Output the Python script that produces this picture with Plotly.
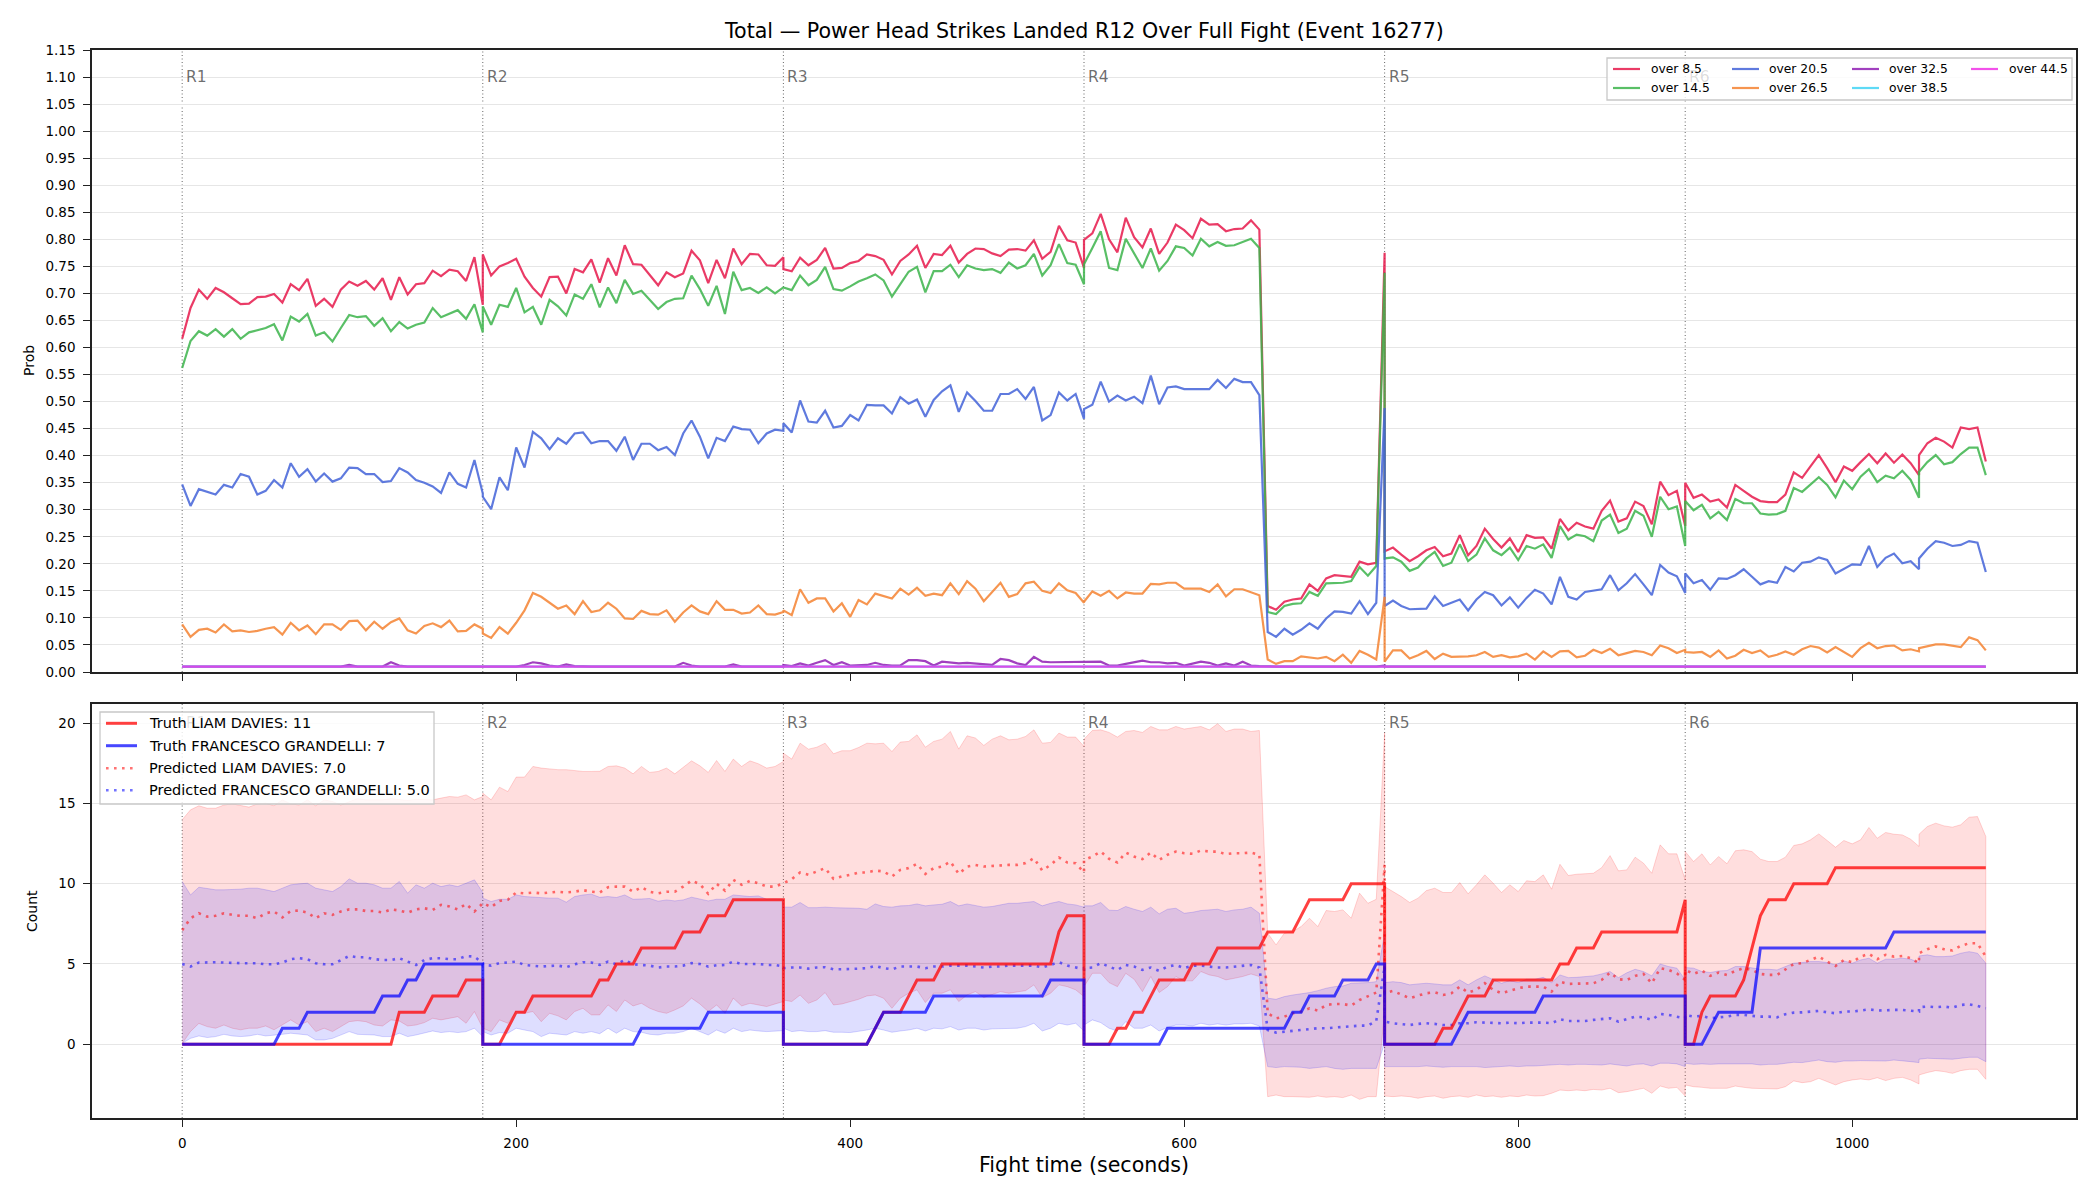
import plotly.graph_objects as go

# ---------------------------------------------------------------- data
ROUND_STARTS = [0, 180, 360, 540, 720, 900]
ROUND_LABELS = ["R1", "R2", "R3", "R4", "R5", "R6"]
STEP = 5
PTS_PER_ROUND = 37
R6_BREAK = 1040          # a second sample sits at t=1040 in round 6


def build_times():
    t = []
    for r0 in ROUND_STARTS[:5]:
        t += [r0 + STEP * k for k in range(PTS_PER_ROUND)]
    t += [900 + STEP * k for k in range(29)]
    t += [R6_BREAK]
    t += [R6_BREAK + STEP * k for k in range(1, 9)]
    return t


T = build_times()
X_FLAT = [0, 1080]

OVER_8_5 = [
    0.616, 0.673, 0.707, 0.690, 0.710, 0.702, 0.691, 0.680, 0.681, 0.693, 0.694, 0.699, 0.683, 0.717, 0.706, 0.727, 0.677, 0.690, 0.675, 0.707, 0.722, 0.714, 0.723, 0.707, 0.728, 0.688, 0.730, 0.698, 0.717, 0.719, 0.742, 0.732, 0.744, 0.741, 0.723, 0.767, 0.679,
    0.772, 0.733, 0.750, 0.756, 0.764, 0.731, 0.710, 0.694, 0.730, 0.731, 0.700, 0.745, 0.739, 0.763, 0.720, 0.765, 0.733, 0.789, 0.754, 0.753, 0.735, 0.715, 0.739, 0.730, 0.737, 0.779, 0.761, 0.719, 0.762, 0.728, 0.783, 0.754, 0.773, 0.772, 0.752, 0.751, 0.767,
    0.745, 0.741, 0.766, 0.752, 0.762, 0.784, 0.746, 0.747, 0.756, 0.760, 0.772, 0.769, 0.762, 0.735, 0.760, 0.772, 0.788, 0.747, 0.773, 0.771, 0.788, 0.757, 0.773, 0.783, 0.782, 0.774, 0.769, 0.781, 0.782, 0.779, 0.798, 0.764, 0.777, 0.825, 0.798, 0.794, 0.747,
    0.799, 0.811, 0.847, 0.800, 0.776, 0.840, 0.804, 0.785, 0.820, 0.773, 0.794, 0.827, 0.817, 0.802, 0.838, 0.827, 0.828, 0.815, 0.819, 0.820, 0.835, 0.818, 0.122, 0.115, 0.130, 0.134, 0.136, 0.162, 0.150, 0.173, 0.179, 0.177, 0.176, 0.204, 0.199, 0.202, 0.775,
    0.223, 0.230, 0.217, 0.205, 0.214, 0.225, 0.231, 0.214, 0.219, 0.253, 0.216, 0.233, 0.265, 0.246, 0.230, 0.247, 0.222, 0.253, 0.248, 0.249, 0.228, 0.283, 0.262, 0.276, 0.269, 0.265, 0.298, 0.317, 0.278, 0.284, 0.315, 0.307, 0.273, 0.352, 0.327, 0.335, 0.270,
    0.350, 0.322, 0.328, 0.315, 0.319, 0.304, 0.346, 0.335, 0.324, 0.316, 0.314, 0.314, 0.328, 0.369, 0.359, 0.380, 0.401, 0.377, 0.351, 0.380, 0.372, 0.388, 0.403, 0.386, 0.404, 0.387, 0.402, 0.386, 0.364, 0.401, 0.423, 0.433, 0.426, 0.415, 0.452, 0.449, 0.452, 0.389,
]

OVER_14_5 = [
    0.562, 0.612, 0.630, 0.622, 0.634, 0.620, 0.634, 0.616, 0.628, 0.632, 0.636, 0.643, 0.613, 0.657, 0.648, 0.662, 0.622, 0.628, 0.611, 0.636, 0.660, 0.656, 0.658, 0.640, 0.654, 0.630, 0.647, 0.635, 0.642, 0.646, 0.673, 0.656, 0.662, 0.669, 0.653, 0.680, 0.628,
    0.676, 0.642, 0.679, 0.675, 0.710, 0.665, 0.675, 0.642, 0.688, 0.676, 0.659, 0.698, 0.690, 0.717, 0.674, 0.711, 0.682, 0.725, 0.699, 0.705, 0.688, 0.671, 0.684, 0.690, 0.691, 0.733, 0.708, 0.677, 0.714, 0.662, 0.740, 0.706, 0.710, 0.701, 0.711, 0.700, 0.711,
    0.711, 0.706, 0.733, 0.715, 0.725, 0.749, 0.708, 0.705, 0.713, 0.722, 0.728, 0.735, 0.724, 0.694, 0.717, 0.740, 0.749, 0.702, 0.741, 0.741, 0.753, 0.730, 0.752, 0.746, 0.743, 0.745, 0.738, 0.757, 0.746, 0.752, 0.773, 0.733, 0.752, 0.791, 0.756, 0.753, 0.717,
    0.754, 0.784, 0.815, 0.747, 0.743, 0.801, 0.775, 0.747, 0.783, 0.742, 0.760, 0.787, 0.784, 0.770, 0.801, 0.787, 0.795, 0.788, 0.789, 0.795, 0.801, 0.784, 0.111, 0.107, 0.122, 0.126, 0.127, 0.148, 0.141, 0.164, 0.164, 0.165, 0.168, 0.194, 0.178, 0.196, 0.738,
    0.210, 0.212, 0.204, 0.187, 0.193, 0.210, 0.222, 0.196, 0.202, 0.236, 0.205, 0.217, 0.247, 0.225, 0.216, 0.230, 0.207, 0.233, 0.228, 0.236, 0.211, 0.270, 0.245, 0.254, 0.251, 0.242, 0.280, 0.291, 0.257, 0.265, 0.298, 0.289, 0.250, 0.324, 0.301, 0.306, 0.233,
    0.316, 0.299, 0.309, 0.284, 0.296, 0.281, 0.320, 0.312, 0.312, 0.293, 0.291, 0.292, 0.298, 0.340, 0.333, 0.346, 0.360, 0.346, 0.323, 0.354, 0.338, 0.361, 0.375, 0.351, 0.363, 0.358, 0.372, 0.355, 0.322, 0.370, 0.388, 0.401, 0.384, 0.388, 0.403, 0.415, 0.415, 0.364,
]

OVER_20_5 = [
    0.347, 0.307, 0.338, 0.333, 0.328, 0.346, 0.341, 0.366, 0.361, 0.328, 0.335, 0.355, 0.341, 0.386, 0.361, 0.375, 0.352, 0.367, 0.352, 0.358, 0.378, 0.377, 0.366, 0.366, 0.351, 0.353, 0.377, 0.369, 0.355, 0.350, 0.343, 0.331, 0.369, 0.348, 0.341, 0.392, 0.330,
    0.324, 0.301, 0.360, 0.336, 0.415, 0.378, 0.444, 0.432, 0.412, 0.432, 0.422, 0.441, 0.443, 0.423, 0.427, 0.427, 0.409, 0.435, 0.392, 0.422, 0.422, 0.410, 0.416, 0.401, 0.441, 0.465, 0.435, 0.395, 0.433, 0.427, 0.454, 0.449, 0.448, 0.423, 0.441, 0.448, 0.446,
    0.460, 0.443, 0.502, 0.463, 0.461, 0.483, 0.452, 0.455, 0.475, 0.465, 0.494, 0.493, 0.493, 0.478, 0.508, 0.496, 0.504, 0.472, 0.503, 0.519, 0.530, 0.481, 0.517, 0.501, 0.483, 0.483, 0.514, 0.514, 0.523, 0.505, 0.527, 0.465, 0.475, 0.517, 0.502, 0.514, 0.468,
    0.486, 0.494, 0.537, 0.500, 0.511, 0.502, 0.509, 0.497, 0.548, 0.495, 0.526, 0.528, 0.523, 0.523, 0.523, 0.523, 0.540, 0.525, 0.542, 0.536, 0.536, 0.512, 0.074, 0.065, 0.080, 0.069, 0.078, 0.090, 0.080, 0.099, 0.112, 0.111, 0.108, 0.131, 0.107, 0.128, 0.488,
    0.122, 0.132, 0.122, 0.116, 0.116, 0.117, 0.140, 0.122, 0.128, 0.134, 0.114, 0.134, 0.148, 0.142, 0.123, 0.138, 0.119, 0.137, 0.152, 0.145, 0.125, 0.176, 0.139, 0.134, 0.148, 0.151, 0.153, 0.179, 0.151, 0.164, 0.181, 0.162, 0.142, 0.198, 0.184, 0.177, 0.146,
    0.182, 0.164, 0.170, 0.152, 0.173, 0.172, 0.179, 0.190, 0.176, 0.162, 0.168, 0.165, 0.194, 0.186, 0.202, 0.204, 0.212, 0.207, 0.182, 0.191, 0.199, 0.198, 0.233, 0.194, 0.211, 0.219, 0.201, 0.205, 0.190, 0.210, 0.228, 0.242, 0.239, 0.233, 0.235, 0.242, 0.239, 0.185,
]

OVER_26_5 = [
    0.088, 0.065, 0.078, 0.080, 0.073, 0.088, 0.075, 0.077, 0.074, 0.076, 0.080, 0.083, 0.069, 0.091, 0.077, 0.086, 0.070, 0.088, 0.088, 0.078, 0.094, 0.095, 0.077, 0.093, 0.080, 0.092, 0.099, 0.077, 0.071, 0.085, 0.090, 0.083, 0.095, 0.075, 0.076, 0.088, 0.080,
    0.071, 0.063, 0.083, 0.071, 0.091, 0.114, 0.146, 0.139, 0.128, 0.117, 0.123, 0.107, 0.131, 0.111, 0.114, 0.128, 0.117, 0.099, 0.098, 0.113, 0.107, 0.106, 0.114, 0.093, 0.110, 0.123, 0.112, 0.107, 0.131, 0.115, 0.115, 0.108, 0.110, 0.123, 0.107, 0.106, 0.111,
    0.114, 0.105, 0.153, 0.128, 0.136, 0.136, 0.112, 0.127, 0.102, 0.133, 0.125, 0.145, 0.141, 0.136, 0.154, 0.143, 0.156, 0.141, 0.145, 0.142, 0.164, 0.144, 0.168, 0.154, 0.131, 0.148, 0.165, 0.139, 0.144, 0.164, 0.167, 0.150, 0.146, 0.164, 0.151, 0.146, 0.128,
    0.130, 0.149, 0.141, 0.150, 0.136, 0.147, 0.145, 0.145, 0.163, 0.162, 0.165, 0.165, 0.154, 0.154, 0.154, 0.148, 0.162, 0.140, 0.153, 0.153, 0.148, 0.142, 0.023, 0.015, 0.020, 0.020, 0.029, 0.027, 0.025, 0.028, 0.020, 0.032, 0.017, 0.039, 0.032, 0.023, 0.139,
    0.019, 0.040, 0.040, 0.025, 0.031, 0.039, 0.024, 0.034, 0.028, 0.028, 0.029, 0.031, 0.037, 0.028, 0.031, 0.027, 0.029, 0.034, 0.023, 0.038, 0.028, 0.038, 0.039, 0.027, 0.030, 0.041, 0.035, 0.043, 0.031, 0.035, 0.039, 0.037, 0.031, 0.049, 0.044, 0.035, 0.041,
    0.037, 0.036, 0.037, 0.028, 0.040, 0.025, 0.030, 0.041, 0.035, 0.040, 0.028, 0.032, 0.038, 0.032, 0.042, 0.048, 0.045, 0.036, 0.046, 0.037, 0.028, 0.044, 0.054, 0.044, 0.048, 0.049, 0.040, 0.042, 0.038, 0.044, 0.048, 0.051, 0.051, 0.048, 0.046, 0.064, 0.059, 0.040,
]

OVER_32_5 = [
    0.010, 0.010, 0.010, 0.010, 0.010, 0.010, 0.010, 0.010, 0.010, 0.010, 0.010, 0.010, 0.010, 0.010, 0.010, 0.010, 0.010, 0.010, 0.010, 0.010, 0.013, 0.010, 0.010, 0.010, 0.010, 0.018, 0.012, 0.010, 0.010, 0.010, 0.010, 0.010, 0.010, 0.010, 0.010, 0.010, 0.010,
    0.010, 0.010, 0.010, 0.010, 0.010, 0.013, 0.018, 0.016, 0.012, 0.010, 0.014, 0.011, 0.010, 0.010, 0.010, 0.010, 0.010, 0.010, 0.010, 0.010, 0.010, 0.010, 0.010, 0.010, 0.017, 0.012, 0.010, 0.010, 0.010, 0.010, 0.014, 0.010, 0.010, 0.010, 0.010, 0.010, 0.010,
    0.013, 0.011, 0.016, 0.012, 0.017, 0.022, 0.013, 0.018, 0.012, 0.013, 0.013, 0.017, 0.013, 0.012, 0.012, 0.022, 0.022, 0.020, 0.012, 0.019, 0.018, 0.016, 0.017, 0.016, 0.014, 0.013, 0.024, 0.022, 0.016, 0.013, 0.028, 0.019, 0.018, 0.018, 0.019, 0.019, 0.019,
    0.019, 0.019, 0.019, 0.012, 0.012, 0.015, 0.018, 0.021, 0.018, 0.018, 0.016, 0.017, 0.012, 0.016, 0.019, 0.017, 0.012, 0.016, 0.012, 0.019, 0.012, 0.011, 0.010, 0.010, 0.010, 0.010, 0.010, 0.010, 0.010, 0.010, 0.010, 0.010, 0.010, 0.010, 0.010, 0.010, 0.012,
    0.010, 0.010, 0.010, 0.010, 0.010, 0.010, 0.010, 0.010, 0.010, 0.010, 0.010, 0.010, 0.010, 0.010, 0.010, 0.010, 0.010, 0.010, 0.010, 0.010, 0.010, 0.010, 0.010, 0.010, 0.010, 0.010, 0.010, 0.010, 0.010, 0.010, 0.010, 0.010, 0.010, 0.010, 0.010, 0.010, 0.010,
    0.010, 0.010, 0.010, 0.010, 0.010, 0.010, 0.010, 0.010, 0.010, 0.010, 0.010, 0.010, 0.010, 0.010, 0.010, 0.010, 0.010, 0.010, 0.010, 0.010, 0.010, 0.010, 0.010, 0.010, 0.010, 0.010, 0.010, 0.010, 0.010, 0.010, 0.010, 0.010, 0.010, 0.010, 0.010, 0.010, 0.010, 0.010,
]

OVER_38_5 = [0.010, 0.010]
OVER_44_5 = [0.010, 0.010]

TRUTH_LIAM = [
    0, 0, 0, 0, 0, 0, 0, 0, 0, 0, 0, 0, 0, 0, 0, 0, 0, 0, 0, 0, 0, 0, 0, 0, 0, 0, 2, 2, 2, 2, 3, 3, 3, 3, 4, 4, 4,
    0, 0, 0, 1, 2, 2, 3, 3, 3, 3, 3, 3, 3, 3, 4, 4, 5, 5, 5, 6, 6, 6, 6, 6, 7, 7, 7, 8, 8, 8, 9, 9, 9, 9, 9, 9, 9,
    0, 0, 0, 0, 0, 0, 0, 0, 0, 0, 0, 1, 2, 2, 2, 3, 4, 4, 4, 5, 5, 5, 5, 5, 5, 5, 5, 5, 5, 5, 5, 5, 5, 7, 8, 8, 8,
    0, 0, 0, 0, 1, 1, 2, 2, 3, 4, 4, 4, 4, 5, 5, 5, 6, 6, 6, 6, 6, 6, 7, 7, 7, 7, 8, 9, 9, 9, 9, 9, 10, 10, 10, 10, 10,
    0, 0, 0, 0, 0, 0, 0, 1, 1, 2, 3, 3, 3, 4, 4, 4, 4, 4, 4, 4, 4, 5, 5, 6, 6, 6, 7, 7, 7, 7, 7, 7, 7, 7, 7, 7, 9,
    0, 0, 2, 3, 3, 3, 3, 4, 6, 8, 9, 9, 9, 10, 10, 10, 10, 10, 11, 11, 11, 11, 11, 11, 11, 11, 11, 11, 11, 11, 11, 11, 11, 11, 11, 11, 11, 11,
]

TRUTH_FRAN = [
    0, 0, 0, 0, 0, 0, 0, 0, 0, 0, 0, 0, 1, 1, 1, 2, 2, 2, 2, 2, 2, 2, 2, 2, 3, 3, 3, 4, 4, 5, 5, 5, 5, 5, 5, 5, 5,
    0, 0, 0, 0, 0, 0, 0, 0, 0, 0, 0, 0, 0, 0, 0, 0, 0, 0, 0, 1, 1, 1, 1, 1, 1, 1, 1, 2, 2, 2, 2, 2, 2, 2, 2, 2, 2,
    0, 0, 0, 0, 0, 0, 0, 0, 0, 0, 0, 1, 2, 2, 2, 2, 2, 2, 3, 3, 3, 3, 3, 3, 3, 3, 3, 3, 3, 3, 3, 3, 4, 4, 4, 4, 4,
    0, 0, 0, 0, 0, 0, 0, 0, 0, 0, 1, 1, 1, 1, 1, 1, 1, 1, 1, 1, 1, 1, 1, 1, 1, 2, 2, 3, 3, 3, 3, 4, 4, 4, 4, 5, 5,
    0, 0, 0, 0, 0, 0, 0, 0, 0, 1, 2, 2, 2, 2, 2, 2, 2, 2, 2, 3, 3, 3, 3, 3, 3, 3, 3, 3, 3, 3, 3, 3, 3, 3, 3, 3, 3,
    0, 0, 0, 1, 2, 2, 2, 2, 2, 6, 6, 6, 6, 6, 6, 6, 6, 6, 6, 6, 6, 6, 6, 6, 6, 7, 7, 7, 7, 7, 7, 7, 7, 7, 7, 7, 7, 7,
]

PRED_LIAM = [
    7.1, 7.85, 8.16, 7.95, 8.0, 8.16, 8.06, 8.0, 8.0, 7.85, 8.16, 8.27, 7.9, 8.3, 8.33, 8.2, 7.85, 8.16, 8.06, 8.27, 8.4, 8.4, 8.3, 8.3, 8.2, 8.4, 8.33, 8.2, 8.4, 8.47, 8.37, 8.68, 8.58, 8.4, 8.74, 8.27, 8.78,
    8.8, 8.54, 8.93, 9.0, 9.45, 9.4, 9.45, 9.4, 9.45, 9.5, 9.45, 9.5, 9.6, 9.5, 9.45, 9.78, 9.82, 9.82, 9.5, 9.78, 9.5, 9.4, 9.5, 9.5, 9.82, 10.2, 9.97, 9.37, 10.0, 9.57, 10.24, 9.93, 10.18, 10.03, 9.82, 9.82, 10.03,
    10.03, 10.28, 10.7, 10.55, 10.76, 10.97, 10.3, 10.45, 10.55, 10.7, 10.7, 10.82, 10.76, 10.45, 10.86, 10.97, 11.24, 10.61, 10.97, 11.07, 11.38, 10.61, 11.07, 11.17, 11.07, 11.1, 11.17, 11.17, 11.17, 11.28, 11.59, 10.82, 11.17, 11.63, 11.32, 11.28, 10.7,
    11.48, 11.69, 12.0, 11.55, 11.32, 11.94, 11.69, 11.53, 11.94, 11.48, 11.8, 12.0, 11.9, 11.86, 12.07, 12.0, 12.0, 11.84, 11.9, 11.9, 11.94, 11.8, 1.93, 1.62, 1.72, 1.93, 2.04, 2.24, 2.1, 2.45, 2.51, 2.51, 2.41, 2.76, 2.97, 3.22, 11.17,
    3.2, 3.32, 3.07, 2.87, 3.03, 3.18, 3.24, 3.07, 3.18, 3.59, 3.22, 3.39, 3.8, 3.39, 3.18, 3.34, 3.49, 3.59, 3.59, 3.59, 3.28, 3.9, 3.76, 3.76, 3.8, 3.8, 4.01, 4.47, 4.05, 4.0, 4.26, 4.38, 3.8, 4.74, 4.63, 4.42, 4.0,
    4.63, 4.38, 4.59, 4.26, 4.47, 4.32, 4.57, 4.74, 4.63, 4.38, 4.32, 4.32, 4.67, 5.0, 5.05, 5.25, 5.46, 5.15, 4.88, 5.25, 5.11, 5.46, 5.63, 5.3, 5.57, 5.46, 5.5, 5.36, 5.05, 5.67, 5.92, 6.09, 5.92, 5.84, 6.13, 6.29, 6.29, 5.46,
]

PRED_FRAN = [
    5.0, 4.84, 5.09, 5.11, 5.11, 5.09, 5.05, 5.05, 5.05, 5.05, 4.98, 4.98, 5.09, 5.3, 5.36, 5.3, 5.05, 4.98, 4.98, 5.25, 5.5, 5.42, 5.42, 5.3, 5.25, 5.25, 5.36, 5.15, 4.94, 5.25, 5.36, 5.36, 5.3, 5.3, 5.5, 5.46, 5.05,
    4.94, 4.9, 5.05, 5.11, 5.15, 4.94, 4.88, 4.84, 4.88, 4.9, 4.8, 4.98, 5.11, 5.09, 4.94, 5.15, 4.98, 5.25, 4.98, 4.94, 4.9, 4.78, 4.84, 4.84, 4.9, 5.05, 5.0, 4.84, 4.92, 4.94, 5.15, 5.0, 5.0, 5.0, 4.94, 4.94, 4.84,
    4.74, 4.78, 4.78, 4.71, 4.78, 4.8, 4.67, 4.67, 4.67, 4.71, 4.74, 4.88, 4.74, 4.67, 4.84, 4.84, 4.84, 4.74, 4.84, 4.84, 4.9, 4.9, 4.9, 4.84, 4.78, 4.84, 4.84, 4.9, 4.9, 4.9, 4.9, 4.78, 4.94, 5.11, 4.9, 4.78, 4.67,
    4.74, 4.78, 5.05, 4.84, 4.63, 4.94, 4.84, 4.63, 4.78, 4.57, 4.84, 4.94, 4.74, 4.9, 4.9, 4.84, 4.78, 4.78, 4.84, 4.9, 4.94, 4.78, 0.89, 0.73, 0.79, 0.83, 0.89, 0.93, 1.0, 1.0, 1.04, 1.1, 1.1, 1.16, 1.16, 1.45, 4.84,
    1.41, 1.31, 1.27, 1.2, 1.27, 1.31, 1.27, 1.2, 1.2, 1.31, 1.31, 1.37, 1.35, 1.31, 1.31, 1.35, 1.31, 1.35, 1.37, 1.35, 1.31, 1.56, 1.45, 1.47, 1.45, 1.52, 1.58, 1.62, 1.41, 1.55, 1.72, 1.68, 1.52, 1.89, 1.83, 1.72, 1.62,
    1.83, 1.72, 1.77, 1.62, 1.68, 1.72, 1.83, 1.83, 1.77, 1.72, 1.72, 1.68, 1.87, 1.97, 1.99, 2.04, 2.08, 1.99, 1.93, 2.04, 2.04, 2.1, 2.18, 2.1, 2.14, 2.14, 2.14, 2.1, 2.04, 2.31, 2.35, 2.31, 2.35, 2.28, 2.45, 2.49, 2.39, 2.24,
]

LIAM_HI = [
    13.98, 14.6, 14.85, 14.7, 14.7, 14.9, 14.97, 14.85, 14.77, 14.97, 15.02, 14.85, 15.22, 14.97, 14.9, 15.22, 14.85, 15.22, 15.12, 14.9, 15.12, 15.3, 15.22, 15.22, 15.22, 15.3, 15.22, 15.18, 15.26, 15.22, 15.22, 15.33, 15.43, 15.39, 15.53, 15.22, 15.43,
    15.64, 15.22, 16.01, 15.74, 16.64, 16.64, 17.3, 17.2, 17.15, 17.1, 17.1, 17.05, 16.99, 16.99, 17.0, 17.3, 17.34, 17.2, 16.84, 17.3, 16.93, 16.99, 17.2, 16.84, 17.26, 17.65, 17.34, 16.93, 17.67, 16.99, 17.76, 17.3, 17.65, 17.47, 17.2, 17.3, 17.61,
    18.13, 17.76, 18.75, 18.38, 18.5, 18.75, 18.09, 18.28, 18.28, 18.48, 18.75, 18.71, 18.75, 18.23, 18.82, 18.86, 19.27, 18.5, 18.86, 19.0, 19.48, 18.38, 19.21, 19.07, 18.61, 19.0, 19.21, 18.96, 19.0, 19.17, 19.58, 18.75, 18.8, 19.38, 19.13, 19.13, 18.55,
    19.0, 19.54, 19.58, 19.42, 19.13, 19.48, 19.54, 19.42, 19.79, 19.58, 19.58, 19.79, 19.63, 19.69, 19.79, 19.58, 19.96, 19.48, 19.63, 19.63, 19.48, 19.54, 6.92, 6.19, 6.92, 7.02, 7.33, 7.85, 7.33, 8.33, 8.27, 8.37, 7.85, 9.41, 8.78, 9.03, 19.4,
    9.82, 9.51, 9.2, 8.83, 9.1, 9.57, 9.72, 9.45, 9.45, 10.07, 9.37, 9.93, 10.55, 10.03, 9.45, 9.93, 9.51, 10.18, 10.13, 10.55, 9.66, 11.21, 10.51, 10.59, 10.61, 10.65, 11.0, 11.75, 10.8, 10.86, 11.65, 11.28, 10.65, 12.42, 11.86, 11.86, 10.24,
    12.0, 11.38, 11.86, 11.17, 11.69, 11.24, 12.05, 12.11, 12.0, 11.53, 11.38, 11.38, 11.65, 12.38, 12.48, 12.73, 13.1, 12.69, 12.27, 12.69, 12.48, 12.73, 13.5, 12.83, 13.19, 13.08, 13.04, 12.77, 12.32, 13.08, 13.56, 13.77, 13.6, 13.52, 13.67, 14.14, 14.18, 12.94,
]

LIAM_LO = [
    0.05, 0.8, 1.3, 1.1, 1.0, 1.2, 1.0, 0.9, 1.0, 1.0, 1.14, 0.9, 1.2, 1.52, 1.2, 1.41, 0.79, 1.0, 0.79, 1.1, 1.41, 1.47, 1.41, 1.2, 1.14, 1.52, 1.45, 1.14, 1.2, 1.35, 1.62, 1.52, 1.62, 1.72, 1.31, 2.04, 1.0,
    1.0, 0.79, 1.52, 1.31, 2.04, 1.93, 2.04, 1.41, 1.93, 1.77, 1.52, 2.04, 2.24, 1.83, 1.83, 2.45, 2.04, 2.76, 2.39, 2.55, 2.24, 2.04, 1.93, 2.14, 2.39, 2.87, 2.51, 2.04, 2.45, 1.93, 2.87, 2.39, 2.55, 2.45, 2.35, 2.51, 2.66,
    2.76, 2.66, 3.07, 2.55, 2.76, 3.22, 2.45, 2.51, 2.66, 2.8, 3.01, 3.07, 2.87, 2.24, 2.87, 3.18, 3.39, 2.6, 3.18, 3.18, 3.39, 2.66, 3.07, 3.28, 2.91, 3.07, 3.28, 3.18, 3.28, 3.34, 3.7, 2.91, 3.18, 3.7, 3.59, 3.39, 2.97,
    3.59, 4.42, 4.42, 3.84, 3.59, 4.42, 4.05, 3.28, 4.22, 3.22, 3.59, 4.22, 3.95, 3.95, 4.53, 4.32, 4.22, 4.01, 4.11, 4.22, 4.38, 4.22, -3.26, -3.16, -3.26, -3.26, -3.26, -3.3, -3.22, -3.3, -3.26, -3.32, -3.16, -3.43, -3.26, -3.26, 2.0,
    -3.22, -3.26, -3.22, -3.26, -3.36, -3.26, -3.22, -3.36, -3.26, -3.22, -3.3, -3.16, -3.26, -3.22, -3.3, -3.22, -3.26, -3.16, -3.22, -3.2, -3.05, -2.85, -2.89, -2.85, -2.89, -2.81, -2.85, -2.74, -3.01, -2.95, -2.85, -2.74, -3.05, -2.6, -2.74, -2.68, -3.22,
    -2.53, -2.64, -2.68, -2.74, -2.74, -2.74, -2.6, -2.68, -2.74, -2.74, -2.78, -2.78, -2.64, -2.28, -2.39, -2.33, -2.12, -2.33, -2.53, -2.33, -2.22, -2.16, -2.22, -2.08, -2.26, -2.12, -2.06, -2.22, -2.47, -1.91, -1.76, -1.64, -1.7, -1.81, -1.64, -1.56, -1.56, -2.18,
]

FRAN_HI = [
    10.14, 9.3, 9.78, 9.72, 9.62, 9.62, 9.62, 9.66, 9.72, 9.72, 9.62, 9.51, 9.72, 9.93, 9.99, 10.03, 9.72, 9.62, 9.51, 9.82, 10.3, 10.03, 10.03, 9.93, 9.72, 9.72, 10.14, 9.41, 9.93, 9.72, 10.03, 9.82, 9.93, 9.82, 10.03, 10.24, 9.45,
    9.1, 8.89, 9.03, 9.03, 9.3, 9.2, 9.16, 9.1, 9.1, 9.1, 8.85, 9.2, 9.3, 9.35, 9.15, 9.2, 9.14, 9.3, 9.03, 9.05, 9.08, 8.91, 8.99, 8.93, 8.99, 9.16, 9.03, 8.93, 9.03, 9.03, 9.3, 9.24, 9.2, 9.24, 9.03, 9.05, 9.03,
    8.54, 8.54, 8.83, 8.51, 8.51, 8.54, 8.51, 8.51, 8.51, 8.47, 8.41, 8.74, 8.58, 8.54, 8.62, 8.64, 8.74, 8.62, 8.68, 8.72, 8.89, 8.62, 8.74, 8.62, 8.54, 8.58, 8.68, 8.78, 8.78, 8.83, 8.89, 8.62, 8.78, 8.89, 8.74, 8.68, 8.54,
    8.62, 8.62, 8.83, 8.35, 8.33, 8.58, 8.41, 8.27, 8.54, 8.12, 8.41, 8.47, 8.16, 8.22, 8.33, 8.37, 8.41, 8.27, 8.37, 8.41, 8.54, 8.16, 2.87, 2.8, 2.97, 3.07, 3.14, 3.22, 3.34, 3.49, 3.59, 3.63, 3.8, 3.8, 3.84, 3.9, 6.92,
    3.84, 3.9, 3.84, 3.7, 3.76, 3.8, 3.76, 3.7, 3.7, 4.01, 3.7, 4.01, 4.26, 4.05, 3.8, 3.97, 3.84, 4.05, 4.05, 4.17, 3.84, 4.32, 4.15, 4.17, 4.22, 4.26, 4.38, 4.53, 4.15, 4.45, 4.67, 4.53, 4.26, 5.0, 4.84, 4.74, 4.01,
    4.78, 4.74, 4.53, 4.47, 4.57, 4.59, 4.84, 4.84, 4.74, 4.67, 4.67, 4.63, 4.84, 5.05, 5.09, 5.15, 5.15, 5.09, 4.94, 5.19, 5.05, 5.25, 5.36, 5.05, 5.3, 5.3, 5.36, 5.3, 5.09, 5.5, 5.57, 5.46, 5.46, 5.5, 5.67, 5.77, 5.67, 5.05,
]

FRAN_LO = [
    0.06, 0.37, 0.52, 0.42, 0.48, 0.62, 0.52, 0.48, 0.52, 0.62, 0.52, 0.58, 0.62, 0.69, 0.64, 0.58, 0.27, 0.27, 0.37, 0.58, 0.79, 0.62, 0.62, 0.58, 0.48, 0.48, 0.69, 0.48, 0.58, 0.69, 0.83, 0.73, 0.79, 0.73, 0.79, 1.0, 0.48,
    0.79, 0.58, 0.73, 0.69, 1.0, 0.89, 0.79, 0.48, 0.69, 0.64, 0.58, 0.79, 0.69, 0.79, 0.66, 1.0, 0.69, 1.0, 0.79, 0.75, 0.62, 0.58, 0.69, 0.69, 0.79, 1.0, 0.79, 0.58, 0.89, 0.69, 1.0, 0.79, 0.89, 0.83, 0.79, 0.83, 0.85,
    1.0, 0.79, 0.85, 0.79, 0.79, 0.85, 0.75, 0.75, 0.73, 0.79, 0.89, 1.0, 0.89, 0.75, 0.83, 0.89, 1.0, 0.83, 1.0, 0.96, 1.1, 0.89, 1.0, 1.0, 0.89, 0.96, 1.0, 1.0, 1.0, 1.1, 1.31, 0.83, 1.0, 1.31, 1.2, 1.31, 0.83,
    1.2, 1.52, 1.35, 1.0, 0.83, 1.41, 1.0, 1.0, 1.2, 0.83, 1.04, 1.2, 1.2, 1.14, 1.31, 1.2, 1.27, 1.2, 1.27, 1.27, 1.31, 1.14, -1.39, -1.45, -1.39, -1.43, -1.43, -1.5, -1.43, -1.39, -1.5, -1.56, -1.5, -1.5, -1.5, -1.5, 0.06,
    -1.39, -1.39, -1.43, -1.39, -1.39, -1.35, -1.39, -1.43, -1.39, -1.35, -1.39, -1.39, -1.45, -1.39, -1.39, -1.35, -1.39, -1.35, -1.35, -1.35, -1.29, -1.25, -1.29, -1.25, -1.25, -1.25, -1.29, -1.22, -1.29, -1.35, -1.25, -1.22, -1.35, -1.18, -1.18, -1.22, -1.39,
    -1.18, -1.25, -1.22, -1.25, -1.22, -1.22, -1.18, -1.22, -1.22, -1.29, -1.25, -1.25, -1.18, -1.12, -1.14, -1.08, -0.98, -1.08, -1.12, -1.04, -1.04, -1.02, -1.02, -1.02, -1.04, -0.98, -1.02, -1.08, -1.14, -0.93, -0.87, -0.87, -0.91, -0.93, -0.87, -0.81, -0.81, -1.08,
]

TOP_SERIES = [
    ("over 8.5", OVER_8_5, "rgba(230,25,75,0.85)"),
    ("over 14.5", OVER_14_5, "rgba(60,180,75,0.85)"),
    ("over 20.5", OVER_20_5, "rgba(67,99,216,0.85)"),
    ("over 26.5", OVER_26_5, "rgba(245,130,49,0.85)"),
    ("over 32.5", OVER_32_5, "rgba(145,30,180,0.85)"),
    ("over 38.5", OVER_38_5, "rgba(66,212,244,0.85)"),
    ("over 44.5", OVER_44_5, "rgba(240,50,230,0.85)"),
]

TITLE = "Total — Power Head Strikes Landed R12 Over Full Fight (Event 16277)"
LEG_TRUTH_LIAM = "Truth LIAM DAVIES: 11"
LEG_TRUTH_FRAN = "Truth FRANCESCO GRANDELLI: 7"
LEG_PRED_LIAM = "Predicted LIAM DAVIES: 7.0"
LEG_PRED_FRAN = "Predicted FRANCESCO GRANDELLI: 5.0"

# ---------------------------------------------------------------- geometry
W, H = 2100, 1200
ML, MR, MT, MB = 92, 24, 50, 82
PW = W - ML - MR
PH = H - MT - MB


def px_x(px):
    return (px - ML) / PW


def px_y(py):
    return (H - MB - py) / PH


FONT = "DejaVu Sans"
RED_TRUTH = "rgba(255,0,0,0.75)"
BLUE_TRUTH = "rgba(0,0,255,0.72)"
RED_PRED = "rgba(255,0,0,0.55)"
BLUE_PRED = "rgba(0,0,255,0.55)"
PRED_DASH = "2.6px,5.4px"

fig = go.Figure()

# ---------------------------------------------------------------- top panel
for name, vals, col in TOP_SERIES:
    xs = X_FLAT if len(vals) == 2 else T
    fig.add_trace(go.Scatter(x=xs, y=vals, mode="lines", name=name,
                             line=dict(color=col, width=2.2),
                             xaxis="x", yaxis="y", showlegend=False, hoverinfo="skip"))

# ---------------------------------------------------------------- bottom panel
band_x = T + T[::-1]
fig.add_trace(go.Scatter(x=band_x, y=LIAM_HI + LIAM_LO[::-1], mode="lines", fill="toself",
                         fillcolor="rgba(255,0,0,0.13)", line=dict(color="rgba(255,0,0,0.16)", width=1),
                         xaxis="x2", yaxis="y2", showlegend=False, hoverinfo="skip"))
fig.add_trace(go.Scatter(x=band_x, y=FRAN_HI + FRAN_LO[::-1], mode="lines", fill="toself",
                         fillcolor="rgba(0,0,255,0.13)", line=dict(color="rgba(0,0,255,0.16)", width=1),
                         xaxis="x2", yaxis="y2", showlegend=False, hoverinfo="skip"))
fig.add_trace(go.Scatter(x=T, y=PRED_LIAM, mode="lines", line=dict(color=RED_PRED, width=2.6, dash=PRED_DASH),
                         xaxis="x2", yaxis="y2", showlegend=False, hoverinfo="skip"))
fig.add_trace(go.Scatter(x=T, y=PRED_FRAN, mode="lines", line=dict(color=BLUE_PRED, width=2.6, dash=PRED_DASH),
                         xaxis="x2", yaxis="y2", showlegend=False, hoverinfo="skip"))
fig.add_trace(go.Scatter(x=T, y=TRUTH_LIAM, mode="lines", line=dict(color=RED_TRUTH, width=3),
                         xaxis="x2", yaxis="y2", showlegend=False, hoverinfo="skip"))
fig.add_trace(go.Scatter(x=T, y=TRUTH_FRAN, mode="lines", line=dict(color=BLUE_TRUTH, width=3),
                         xaxis="x2", yaxis="y2", showlegend=False, hoverinfo="skip"))

# ---------------------------------------------------------------- round markers
shapes = []
annotations = []
for i, r0 in enumerate(ROUND_STARTS):
    for xr, yr in (("x", "y domain"), ("x2", "y2 domain")):
        shapes.append(dict(type="line", xref=xr, yref=yr, x0=r0, x1=r0, y0=0, y1=1,
                           line=dict(color="rgba(50,50,50,0.75)", width=1, dash="1px,2.5px"), layer="below"))
    top_col = "rgba(0,0,0,0.15)" if i == 5 else "rgba(0,0,0,0.58)"
    bot_col = "rgba(0,0,0,0.12)" if i == 0 else "rgba(0,0,0,0.58)"
    annotations.append(dict(x=r0, y=1.10, xref="x", yref="y", text=ROUND_LABELS[i], showarrow=False,
                            xanchor="left", yanchor="middle", xshift=2, font=dict(family=FONT, size=15.5, color=top_col)))
    annotations.append(dict(x=r0, y=20.0, xref="x2", yref="y2", text=ROUND_LABELS[i], showarrow=False,
                            xanchor="left", yanchor="middle", xshift=2, font=dict(family=FONT, size=15.5, color=bot_col)))

# ---------------------------------------------------------------- legends (drawn by hand)
def legend_box(x0, y0, x1, y1):
    shapes.append(dict(type="rect", xref="paper", yref="paper", x0=px_x(x0), x1=px_x(x1),
                       y0=px_y(y1), y1=px_y(y0), line=dict(color="rgba(200,200,200,1)", width=1.3),
                       fillcolor="rgba(255,255,255,0.82)", layer="above"))


def legend_entry(lx0, lx1, ly, tx, text, color, size, width=2.2, dash="solid"):
    shapes.append(dict(type="line", xref="paper", yref="paper", x0=px_x(lx0), x1=px_x(lx1),
                       y0=px_y(ly), y1=px_y(ly), line=dict(color=color, width=width, dash=dash), layer="above"))
    annotations.append(dict(x=px_x(tx), y=px_y(ly), xref="paper", yref="paper", text=text, showarrow=False,
                            xanchor="left", yanchor="middle", font=dict(family=FONT, size=size, color="black")))


legend_box(1607, 58, 2072, 100)
col_line_x = [1613, 1732, 1852, 1971]
col_text_x = [1649, 1767, 1887, 2007]
row_y = [69, 88]
for idx, (name, vals, col) in enumerate(TOP_SERIES):
    c, r = idx // 2, idx % 2
    legend_entry(col_line_x[c], col_line_x[c] + 27, row_y[r], col_text_x[c], name, col, 12.3)

legend_box(100, 712, 434, 804)
bl_rows = [723.3, 745.7, 768.3, 790.3]
legend_entry(106, 137, bl_rows[0], 147, LEG_TRUTH_LIAM, RED_TRUTH, 14.5, width=3)
legend_entry(106, 137, bl_rows[1], 147, LEG_TRUTH_FRAN, BLUE_TRUTH, 14.5, width=3)
legend_entry(106, 137, bl_rows[2], 147, LEG_PRED_LIAM, RED_PRED, 14.5, width=2.6, dash=PRED_DASH)
legend_entry(106, 137, bl_rows[3], 147, LEG_PRED_FRAN, BLUE_PRED, 14.5, width=2.6, dash=PRED_DASH)

# ---------------------------------------------------------------- titles
annotations.append(dict(x=0.5, y=px_y(31), xref="paper", yref="paper", text=TITLE, showarrow=False,
                        xanchor="center", yanchor="middle", font=dict(family=FONT, size=20.6, color="black")))
annotations.append(dict(x=0.5, y=px_y(1165), xref="paper", yref="paper", text="Fight time (seconds)", showarrow=False,
                        xanchor="center", yanchor="middle", font=dict(family=FONT, size=20.6, color="black")))
annotations.append(dict(x=px_x(29), y=px_y(361), xref="paper", yref="paper", text="Prob", showarrow=False,
                        textangle=-90, xanchor="center", yanchor="middle", font=dict(family=FONT, size=14, color="black")))
annotations.append(dict(x=px_x(32), y=px_y(911), xref="paper", yref="paper", text="Count", showarrow=False,
                        textangle=-90, xanchor="center", yanchor="middle", font=dict(family=FONT, size=14, color="black")))

axis_common = dict(showline=True, linecolor="#222222", linewidth=1.6, mirror=True, ticks="outside",
                   ticklen=7, tickwidth=1.3, tickcolor="#222222", zeroline=False,
                   tickfont=dict(family=FONT, size=13.5, color="black"))
X_TICKS = [0, 200, 400, 600, 800, 1000]

fig.update_layout(
    width=W, height=H,
    margin=dict(l=ML, r=MR, t=MT, b=MB),
    paper_bgcolor="white", plot_bgcolor="white",
    font=dict(family=FONT, color="black"),
    showlegend=False,
    hovermode=False,
    xaxis=dict(domain=[0, 1], anchor="y", range=[-54, 1134], tickvals=X_TICKS, showticklabels=False,
               showgrid=False, **axis_common),
    yaxis=dict(domain=[px_y(672), 1.0], anchor="x", range=[0, 1.15], dtick=0.05, tick0=0, tickformat=".2f",
               showgrid=True, gridcolor="#e6e6e6", gridwidth=1, ticklabelstandoff=5, **axis_common),
    xaxis2=dict(domain=[0, 1], anchor="y2", range=[-54, 1134], tickvals=X_TICKS, showgrid=False,
                ticklabelstandoff=5, **axis_common),
    yaxis2=dict(domain=[0, px_y(704)], anchor="x2", range=[-4.59, 21.19], tickvals=[0, 5, 10, 15, 20],
                showgrid=True, gridcolor="#e6e6e6", gridwidth=1, ticklabelstandoff=5, **axis_common),
    shapes=shapes,
    annotations=annotations,
)

fig.write_html("out.html", config={"displayModeBar": False})
